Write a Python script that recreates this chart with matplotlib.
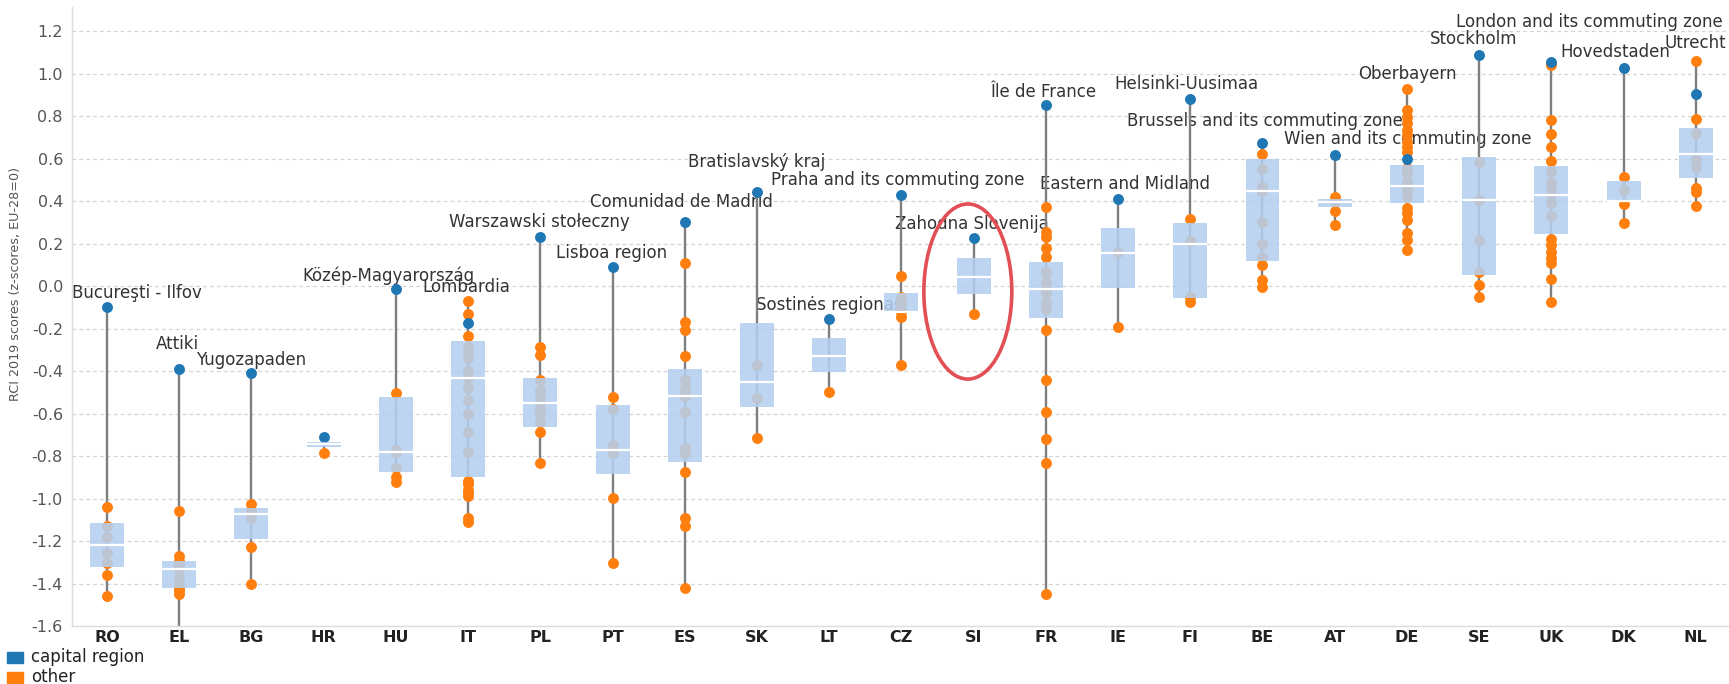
import numpy as np
import matplotlib
matplotlib.use("Agg")
import matplotlib.pyplot as plt
from matplotlib.patches import Ellipse, Rectangle

plt.rcParams['font.family'] = ['DejaVu Sans']

# ---- data: RCI 2019 scores by country ----
countries = ["RO", "EL", "BG", "HR", "HU", "IT", "PL", "PT", "ES", "SK", "LT", "CZ",
             "SI", "FR", "IE", "FI", "BE", "AT", "DE", "SE", "UK", "DK", "NL"]

# capital region score per country
capital = [-0.10, -0.39, -0.41, -0.71, -0.013, -0.176, 0.232, 0.091, 0.301, 0.441,
           -0.155, 0.428, 0.224, 0.85, 0.408, 0.88, 0.672, 0.616, 0.596, 1.087,
           1.056, 1.024, 0.904]

# scores of the other regions per country
others = [
    [-1.04, -1.13, -1.18, -1.255, -1.305, -1.36, -1.46],
    [-1.059, -1.27, -1.294, -1.31, -1.32, -1.333, -1.368, -1.40, -1.423, -1.43, -1.451, -1.65],
    [-1.027, -1.06, -1.09, -1.23, -1.40],
    [-0.788],
    [-0.505, -0.77, -0.78, -0.858, -0.897, -0.92],
    [-0.071, -0.133, -0.234, -0.285, -0.309, -0.34, -0.40, -0.434, -0.48, -0.536, -0.60,
     -0.686, -0.78, -0.916, -0.93, -0.96, -0.976, -0.99, -1.093, -1.109],
    [-0.285, -0.325, -0.44, -0.489, -0.52, -0.552, -0.58, -0.60, -0.638, -0.686, -0.835],
    [-0.524, -0.58, -0.75, -0.788, -0.996, -1.302],
    [0.107, -0.168, -0.207, -0.328, -0.442, -0.482, -0.497, -0.519, -0.591, -0.761,
     -0.788, -0.875, -1.093, -1.129, -1.423],
    [-0.372, -0.529, -0.717],
    [-0.497],
    [0.047, -0.05, -0.08, -0.11, -0.12, -0.144, -0.372],
    [-0.133],
    [0.373, 0.256, 0.229, 0.177, 0.135, 0.067, 0.02, -0.016, -0.035, -0.082, -0.11,
     -0.207, -0.442, -0.591, -0.72, -0.835, -1.449],
    [0.16, -0.191],
    [0.315, 0.21, -0.05, -0.077],
    [0.621, 0.55, 0.467, 0.449, 0.30, 0.20, 0.138, 0.099, 0.028, -0.003],
    [0.42, 0.40, 0.354, 0.287],
    [0.929, 0.828, 0.797, 0.766, 0.734, 0.711, 0.679, 0.656, 0.632, 0.555, 0.53, 0.49,
     0.45, 0.42, 0.365, 0.342, 0.311, 0.248, 0.216, 0.169],
    [0.585, 0.405, 0.216, 0.067, 0.005, -0.053],
    [1.04, 0.781, 0.714, 0.656, 0.588, 0.54, 0.49, 0.46, 0.43, 0.39, 0.33, 0.22, 0.193,
     0.161, 0.13, 0.107, 0.032, -0.074],
    [0.514, 0.45, 0.384, 0.295],
    [1.059, 0.784, 0.72, 0.60, 0.56, 0.46, 0.444, 0.378],
]

# box statistics (lower quartile, median, upper quartile)
box_q1 = [-1.32, -1.423, -1.192, -0.759, -0.873, -0.897, -0.662, -0.885, -0.826, -0.571,
          -0.403, -0.129, -0.038, -0.152, -0.011, -0.055, 0.118, 0.373, 0.389, 0.052,
          0.243, 0.40, 0.51]
box_med = [-1.219, -1.333, -1.075, -0.745, -0.78, -0.434, -0.552, -0.772, -0.519, -0.453,
           -0.328, -0.12, 0.044, -0.016, 0.157, 0.20, 0.449, 0.397, 0.472, 0.405,
           0.427, 0.40, 0.623]
box_q3 = [-1.114, -1.294, -1.046, -0.732, -0.52, -0.259, -0.431, -0.56, -0.391, -0.176,
          -0.246, -0.031, 0.13, 0.111, 0.275, 0.298, 0.596, 0.408, 0.569, 0.609,
          0.565, 0.495, 0.745]

# names of the top region of each country, with their label anchor (x, y)
region_names = ["Bucureşti - Ilfov", "Attiki", "Yugozapaden", "Közép-Magyarország",
                "Lombardia", "Warszawski stołeczny", "Lisboa region", "Comunidad de Madrid",
                "Bratislavský kraj", "Sostinės regionas", "Praha and its commuting zone",
                "Zahodna Slovenija", "Île de France", "Eastern and Midland",
                "Helsinki-Uusimaa", "Brussels and its commuting zone",
                "Wien and its commuting zone", "Oberbayern", "Stockholm",
                "London and its commuting zone", "Hovedstaden", "Utrecht"]
label_x = [0.415, 0.97, 2.0, 3.9, 4.98, 5.98, 6.98, 7.95, 9.0, 10.0, 10.95, 11.98, 12.96,
           14.1, 14.95, 16.03, 18.01, 18.0, 18.93, 20.53, 20.89, 22.0]
label_y = [-0.033, -0.273, -0.348, 0.047, -0.005, 0.301, 0.155, 0.395, 0.584, -0.089,
           0.499, 0.292, 0.913, 0.48, 0.951, 0.776, 0.692, 0.998, 1.162, 1.242, 1.101,
           1.144]

yticks = [-1.6, -1.4, -1.2, -1.0, -0.8, -0.6, -0.4, -0.2, 0.0, 0.2, 0.4, 0.6, 0.8, 1.0, 1.2]

BLUE = "#1f77b4"
ORANGE = "#ff7f0e"

fig = plt.figure(figsize=(17.29, 6.84), dpi=100)
ax = fig.add_axes([72 / 1729, 1 - 626 / 684, 1 - 72 / 1729, 619 / 684])

x = np.arange(len(countries))
box_w = 0.47

for i in range(len(countries)):
    vals = others[i] + [capital[i]]
    # range line from lowest to highest region
    ax.vlines(x[i], min(vals), max(vals), color="#7f7f7f", lw=1.7, zorder=2)
    ax.scatter(np.full(len(others[i]), x[i]), others[i], s=62, color=ORANGE,
               linewidths=0, zorder=3)
    ax.scatter([x[i]], [capital[i]], s=62, color=BLUE, linewidths=0, zorder=3.1)

ax.bar(x, np.array(box_q3) - np.array(box_q1), bottom=box_q1, width=box_w,
       color="#b3cff0", alpha=0.87, linewidth=0, zorder=4)
ax.hlines(box_med, x - box_w / 2, x + box_w / 2, color="white", lw=1.6, zorder=5)

for name, lx, ly in zip(region_names, label_x, label_y):
    ax.text(lx, ly, name, ha="center", va="center", fontsize=12, color="#333333",
            zorder=1)

# highlight for Slovenia
ax.add_patch(Ellipse((11.92, -0.026), 1.218, 0.824, facecolor="none",
                     edgecolor="#e25056", lw=2.6, zorder=6))

ax.set_xlim(-0.485, 22.46)
ax.set_ylim(-1.6, 1.313)
ax.set_xticks(x)
ax.set_xticklabels(countries, fontsize=11.5, fontweight="bold", color="#222222")
ax.set_yticks(yticks)
ax.set_yticklabels([f"{v:.1f}" for v in yticks], fontsize=11.5, color="#555555")
ax.tick_params(axis="x", length=0, pad=3)
ax.tick_params(axis="y", length=0, pad=6.5)
ax.yaxis.grid(True, linestyle=(0, (3, 2.5)), color="#d4d4d4", lw=0.9)
ax.set_axisbelow(True)
for side in ("top", "right"):
    ax.spines[side].set_visible(False)
for side in ("left", "bottom"):
    ax.spines[side].set_color("#dddddd")
    ax.spines[side].set_linewidth(1.0)

fig.text(16 / 1729, 1 - 284 / 684, "RCI 2019 scores (z-scores, EU-28=0)", rotation=90,
         ha="center", va="center", fontsize=9.2, color="#555555")

# legend
fig.patches.append(Rectangle((7 / 1729, 1 - 663 / 684), 16 / 1729, 11 / 684,
                             transform=fig.transFigure, color=BLUE))
fig.patches.append(Rectangle((7 / 1729, 1 - 683 / 684), 16 / 1729, 11 / 684,
                             transform=fig.transFigure, color=ORANGE))
fig.text(31 / 1729, 1 - 657 / 684, "capital region", ha="left", va="center",
         fontsize=12, color="#222222")
fig.text(31 / 1729, 1 - 677 / 684, "other", ha="left", va="center",
         fontsize=12, color="#222222")

fig.savefig("out.png", dpi=100)
